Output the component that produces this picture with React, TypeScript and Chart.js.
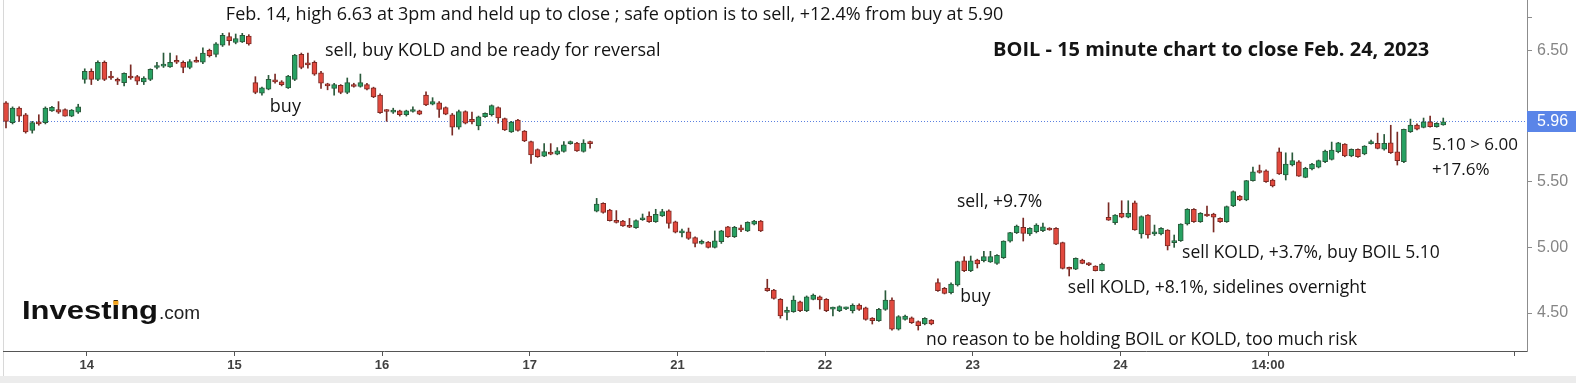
import React, { useEffect, useRef } from "react";
import { Chart, registerables } from "chart.js";

Chart.register(...registerables);

// Each candle: [open, high, low, close] — BOIL 15-minute bars
const feb13: number[][] = [
  [6.10, 6.11, 5.91, 5.96], [5.95, 6.07, 5.94, 6.06], [6.06, 6.07, 5.96, 6.00], [6.01, 6.02, 5.87, 5.88],
  [5.89, 5.96, 5.87, 5.95], [5.95, 6.01, 5.93, 5.94], [5.95, 6.07, 5.94, 6.06], [6.04, 6.075, 6.035, 6.067],
  [6.05, 6.11, 6.02, 6.03], [6.05, 6.055, 6.0, 6.0], [6.0, 6.05, 5.995, 6.045], [6.03, 6.09, 6.02, 6.07],
];
const feb14: number[][] = [
  [6.28, 6.36, 6.25, 6.34], [6.34, 6.36, 6.24, 6.28], [6.28, 6.42, 6.27, 6.41], [6.41, 6.42, 6.27, 6.28],
  [6.30, 6.34, 6.28, 6.29], [6.28, 6.29, 6.24, 6.265], [6.255, 6.33, 6.23, 6.325], [6.30, 6.39, 6.28, 6.29],
  [6.30, 6.31, 6.24, 6.265], [6.26, 6.30, 6.24, 6.29], [6.28, 6.36, 6.27, 6.355], [6.37, 6.41, 6.36, 6.385],
  [6.38, 6.48, 6.37, 6.39], [6.375, 6.48, 6.37, 6.41], [6.415, 6.46, 6.40, 6.41], [6.41, 6.42, 6.33, 6.37],
  [6.37, 6.43, 6.36, 6.415], [6.42, 6.45, 6.41, 6.41], [6.41, 6.52, 6.40, 6.48], [6.50, 6.51, 6.45, 6.46],
  [6.47, 6.56, 6.45, 6.55], [6.54, 6.63, 6.53, 6.615], [6.605, 6.633, 6.54, 6.575], [6.56, 6.625, 6.55, 6.59],
  [6.565, 6.63, 6.56, 6.615], [6.61, 6.62, 6.54, 6.55],
];
const feb15: number[][] = [
  [6.255, 6.30, 6.17, 6.18], [6.175, 6.22, 6.16, 6.215], [6.205, 6.31, 6.20, 6.28], [6.27, 6.32, 6.25, 6.26],
  [6.26, 6.27, 6.23, 6.24], [6.215, 6.31, 6.21, 6.305], [6.28, 6.47, 6.27, 6.465], [6.47, 6.48, 6.36, 6.37],
  [6.40, 6.48, 6.365, 6.39], [6.41, 6.42, 6.31, 6.32], [6.33, 6.34, 6.21, 6.25], [6.245, 6.25, 6.20, 6.23],
  [6.21, 6.25, 6.16, 6.24], [6.235, 6.24, 6.17, 6.18], [6.18, 6.29, 6.17, 6.255], [6.235, 6.25, 6.22, 6.225],
  [6.225, 6.32, 6.22, 6.255], [6.24, 6.25, 6.20, 6.205], [6.215, 6.22, 6.14, 6.145], [6.16, 6.17, 6.02, 6.025],
  [6.045, 6.05, 5.96, 6.035], [6.03, 6.06, 6.02, 6.04], [6.04, 6.045, 6.0, 6.01], [6.01, 6.045, 6.0, 6.04],
  [6.035, 6.07, 6.03, 6.042], [6.04, 6.045, 6.01, 6.015],
];
const feb16: number[][] = [
  [6.16, 6.185, 6.08, 6.085], [6.09, 6.14, 6.085, 6.11], [6.10, 6.11, 5.99, 6.05], [6.065, 6.07, 6.01, 6.015],
  [6.01, 6.02, 5.855, 5.915], [5.915, 6.045, 5.90, 6.035], [6.035, 6.04, 5.94, 5.945], [5.975, 6.03, 5.94, 5.955],
  [5.925, 6.0, 5.895, 5.995], [5.995, 6.025, 5.99, 6.02], [6.01, 6.085, 6.0, 6.08], [6.065, 6.07, 5.945, 5.985],
  [5.98, 5.985, 5.89, 5.895], [5.88, 5.96, 5.875, 5.955], [5.97, 5.975, 5.885, 5.89], [5.885, 5.89, 5.805, 5.81],
  [5.805, 5.81, 5.64, 5.705], [5.745, 5.75, 5.685, 5.69], [5.695, 5.79, 5.69, 5.73], [5.72, 5.79, 5.705, 5.71],
  [5.71, 5.76, 5.705, 5.735], [5.73, 5.805, 5.725, 5.78], [5.79, 5.81, 5.785, 5.805], [5.795, 5.80, 5.73, 5.735],
  [5.73, 5.82, 5.725, 5.795], [5.805, 5.81, 5.755, 5.79],
];
const feb17: number[][] = [
  [5.276, 5.373, 5.27, 5.33], [5.335, 5.34, 5.26, 5.267], [5.284, 5.29, 5.20, 5.203], [5.20, 5.28, 5.185, 5.19],
  [5.20, 5.205, 5.16, 5.163], [5.165, 5.22, 5.15, 5.153], [5.15, 5.21, 5.145, 5.203], [5.21, 5.254, 5.205, 5.222],
  [5.239, 5.27, 5.19, 5.195], [5.195, 5.29, 5.19, 5.252], [5.239, 5.29, 5.235, 5.272], [5.279, 5.285, 5.147, 5.183],
  [5.195, 5.20, 5.11, 5.115], [5.11, 5.14, 5.08, 5.12], [5.119, 5.147, 5.06, 5.069], [5.074, 5.08, 5.003, 5.03],
  [5.03, 5.056, 5.025, 5.04], [5.04, 5.045, 4.995, 5.0], [5.0, 5.125, 4.995, 5.05], [5.043, 5.13, 5.03, 5.125],
  [5.157, 5.16, 5.075, 5.081], [5.081, 5.16, 5.075, 5.153], [5.145, 5.17, 5.12, 5.133], [5.125, 5.195, 5.12, 5.19],
  [5.177, 5.205, 5.17, 5.20], [5.20, 5.205, 5.12, 5.125],
];
const feb21: number[][] = [
  [4.69, 4.757, 4.665, 4.67], [4.675, 4.68, 4.605, 4.612], [4.605, 4.61, 4.46, 4.477], [4.505, 4.545, 4.447, 4.515],
  [4.51, 4.63, 4.505, 4.599], [4.586, 4.59, 4.51, 4.518], [4.518, 4.63, 4.51, 4.624], [4.604, 4.645, 4.60, 4.637],
  [4.624, 4.63, 4.53, 4.599], [4.604, 4.61, 4.51, 4.518], [4.53, 4.545, 4.477, 4.538], [4.518, 4.555, 4.51, 4.548],
  [4.532, 4.545, 4.525, 4.538], [4.518, 4.57, 4.50, 4.559], [4.56, 4.57, 4.52, 4.528], [4.54, 4.545, 4.445, 4.452],
  [4.462, 4.465, 4.416, 4.441], [4.441, 4.535, 4.435, 4.528], [4.528, 4.67, 4.52, 4.599], [4.599, 4.615, 4.37, 4.376],
  [4.376, 4.48, 4.37, 4.472], [4.452, 4.485, 4.445, 4.477], [4.464, 4.47, 4.42, 4.426], [4.434, 4.44, 4.37, 4.403],
  [4.416, 4.465, 4.41, 4.46], [4.447, 4.45, 4.41, 4.416],
];
const feb22: number[][] = [
  [4.731, 4.76, 4.665, 4.67], [4.688, 4.695, 4.645, 4.65], [4.655, 4.73, 4.645, 4.721], [4.713, 4.895, 4.705, 4.891],
  [4.898, 4.929, 4.815, 4.822], [4.822, 4.934, 4.815, 4.898], [4.904, 4.91, 4.843, 4.873], [4.898, 4.97, 4.89, 4.929],
  [4.89, 4.97, 4.885, 4.929], [4.878, 4.945, 4.87, 4.94], [4.921, 5.05, 4.915, 5.048], [5.048, 5.115, 5.04, 5.112],
  [5.112, 5.17, 5.105, 5.163], [5.153, 5.223, 5.048, 5.107], [5.102, 5.15, 5.09, 5.145], [5.119, 5.18, 5.11, 5.17],
  [5.127, 5.185, 5.12, 5.157], [5.145, 5.15, 5.13, 5.132], [5.145, 5.15, 5.02, 5.025], [5.036, 5.04, 4.835, 4.84],
  [4.843, 4.85, 4.782, 4.833], [4.833, 4.92, 4.83, 4.917], [4.904, 4.91, 4.875, 4.878], [4.883, 4.885, 4.86, 4.866],
  [4.858, 4.86, 4.82, 4.822], [4.822, 4.88, 4.82, 4.873],
];
const feb23: number[][] = [
  [5.229, 5.34, 5.205, 5.208], [5.188, 5.25, 5.175, 5.246], [5.259, 5.355, 5.225, 5.229], [5.229, 5.355, 5.225, 5.259],
  [5.34, 5.353, 5.13, 5.132], [5.102, 5.24, 5.07, 5.234], [5.246, 5.25, 5.07, 5.094], [5.102, 5.17, 5.09, 5.119],
  [5.102, 5.15, 5.095, 5.145], [5.132, 5.135, 4.98, 5.01], [5.036, 5.094, 5.0, 5.051], [5.051, 5.18, 5.045, 5.178],
  [5.178, 5.295, 5.17, 5.29], [5.29, 5.295, 5.19, 5.195], [5.195, 5.265, 5.19, 5.259], [5.254, 5.315, 5.235, 5.239],
  [5.254, 5.26, 5.117, 5.229], [5.221, 5.225, 5.19, 5.195], [5.195, 5.315, 5.19, 5.31], [5.315, 5.43, 5.31, 5.424],
  [5.391, 5.395, 5.355, 5.361], [5.361, 5.51, 5.355, 5.508], [5.508, 5.612, 5.505, 5.576], [5.584, 5.627, 5.565, 5.57],
  [5.582, 5.59, 5.495, 5.50], [5.513, 5.52, 5.46, 5.467],
];
const feb24: number[][] = [
  [5.728, 5.757, 5.555, 5.559], [5.551, 5.72, 5.513, 5.635], [5.627, 5.72, 5.62, 5.66], [5.652, 5.66, 5.54, 5.543],
  [5.533, 5.61, 5.53, 5.602], [5.597, 5.64, 5.59, 5.635], [5.61, 5.665, 5.605, 5.66], [5.652, 5.74, 5.645, 5.734],
  [5.67, 5.802, 5.665, 5.741], [5.728, 5.80, 5.72, 5.797], [5.787, 5.79, 5.69, 5.696], [5.696, 5.75, 5.69, 5.747],
  [5.747, 5.75, 5.685, 5.69], [5.711, 5.775, 5.705, 5.772], [5.79, 5.818, 5.785, 5.80], [5.792, 5.87, 5.75, 5.754],
  [5.747, 5.86, 5.74, 5.792], [5.797, 5.93, 5.715, 5.721], [5.728, 5.878, 5.627, 5.66], [5.652, 5.90, 5.645, 5.899],
  [5.881, 5.977, 5.875, 5.932], [5.932, 5.94, 5.895, 5.901], [5.914, 5.985, 5.91, 5.957], [5.957, 6.0, 5.915, 5.919],
  [5.919, 5.95, 5.915, 5.945], [5.932, 5.985, 5.93, 5.957],
];

// Date labels along the time axis (placed at candle-index positions)
const dayTickLabels = ["14", "15", "16", "17", "21", "22", "23", "24", "14:00", ""];
const dayTickIndex = [12.3, 34.8, 57.3, 79.8, 102.3, 124.8, 147.3, 169.8, 192.3, 229.8];

// Price axis
const priceTicks = [4.5, 5.0, 5.5, 6.5, 6.75];
const priceTickLabels = ["4.50", "5.00", "5.50", "6.50", ""];
const lastPrice = 5.96;
const priceMin = 4.2106;
const priceMax = 6.884;
const indexMin = -0.457;
const indexMax = 231.76;

// Text notes anchored to (candle index, price)
const noteTexts = [
  "Feb. 14, high 6.63 at 3pm and held up to close ; safe option is to sell, +12.4% from buy at 5.90",
  "sell, buy KOLD and be ready for reversal",
  "buy",
  "BOIL - 15 minute chart to close Feb. 24, 2023",
  "sell, +9.7%",
  "buy",
  "sell KOLD, +8.1%, sidelines overnight",
  "sell KOLD, +3.7%, buy BOIL 5.10",
  "no reason to be holding BOIL or KOLD, too much risk",
  "5.10 > 6.00",
  "+17.6%",
];
const noteIndex = [33.5, 48.6, 40.2, 150.4, 144.9, 145.4, 161.8, 179.2, 140.2, 217.3, 217.3];
const notePrice = [6.77, 6.495, 6.069, 6.50, 5.348, 4.622, 4.69, 4.955, 4.297, 5.78, 5.589];
const noteSize = [18, 18, 18, 20, 17.5, 17.5, 17.5, 17.5, 17.5, 17, 17];
const noteBold = [false, false, false, true, false, false, false, false, false, false, false];

const candles = [feb13, feb14, feb15, feb16, feb17, feb21, feb22, feb23, feb24].flat();

const UP_FILL = "#27a162";
const UP_LINE = "#2a5a3b";
const DOWN_FILL = "#e2493e";
const DOWN_LINE = "#7a2a24";

const isUp = (i: number) => candles[i][3] >= candles[i][0];

const overlayPlugin = {
  id: "overlay",
  beforeDraw(chart: any) {
    const { ctx, width, height } = chart;
    ctx.save();
    ctx.fillStyle = "#ffffff";
    ctx.fillRect(0, 0, width, height);
    ctx.fillStyle = "#ececec";
    ctx.fillRect(0, height - 7, width, 7);
    ctx.fillStyle = "#d8d8d8";
    ctx.fillRect(3, 0, 1, height - 7);
    ctx.restore();
  },
  beforeDatasetsDraw(chart: any) {
    const { ctx, chartArea } = chart;
    const y = Math.round(chart.scales.y.getPixelForValue(lastPrice)) + 0.5;
    ctx.save();
    ctx.strokeStyle = "#5b80e0";
    ctx.lineWidth = 1;
    ctx.setLineDash([1, 2]);
    ctx.beginPath();
    ctx.moveTo(chartArea.left, y);
    ctx.lineTo(chartArea.right, y);
    ctx.stroke();
    ctx.restore();
  },
  afterDraw(chart: any) {
    const { ctx, chartArea, width } = chart;
    const xs = chart.scales.x;
    const ys = chart.scales.y;
    ctx.save();
    // last price tag
    const py = ys.getPixelForValue(lastPrice);
    ctx.fillStyle = "#5a85e8";
    ctx.fillRect(chartArea.right, Math.round(py) - 10, width - chartArea.right, 21);
    ctx.fillStyle = "#ffffff";
    ctx.font = "16px 'Liberation Sans', Arial, sans-serif";
    ctx.textBaseline = "middle";
    ctx.textAlign = "left";
    ctx.fillText(lastPrice.toFixed(2), chartArea.right + 10, Math.round(py) + 1);

    // notes
    ctx.fillStyle = "#141414";
    for (let k = 0; k < noteTexts.length; k++) {
      ctx.font = (noteBold[k] ? "bold " : "") + noteSize[k] + "px 'Open Sans', sans-serif";
      ctx.fillText(noteTexts[k], xs.getPixelForValue(noteIndex[k]), ys.getPixelForValue(notePrice[k]));
    }

    // logo
    ctx.textBaseline = "alphabetic";
    ctx.font = "bold 25px 'Liberation Sans', Arial, sans-serif";
    const w = ctx.measureText("Investing").width;
    const target = 136;
    const sx = target / w;
    const lx = 22;
    const ly = 319;
    ctx.save();
    ctx.translate(lx, ly);
    ctx.scale(sx, 1);
    ctx.fillStyle = "#111111";
    ctx.fillText("Investing", 0, 0);
    const wPre = ctx.measureText("Invest").width;
    const wI = ctx.measureText("i").width;
    ctx.fillStyle = "#f2a21a";
    ctx.fillRect(wPre + wI * 0.2, -18.2, wI * 0.6, 4);
    ctx.restore();
    ctx.font = "19px 'Liberation Sans', Arial, sans-serif";
    ctx.fillStyle = "#222222";
    ctx.fillText(".com", lx + target + 1, ly);
    ctx.restore();
  },
};

export default function App() {
  const ref = useRef<HTMLCanvasElement>(null);
  useEffect(() => {
    const canvas = ref.current!;
    const wickData = candles.map((c, i) => ({ x: i, y: [c[2], c[1]] }));
    const bodyData = candles.map((c, i) => ({
      x: i,
      y: [Math.min(c[0], c[3]), Math.max(c[0], c[3])],
    }));
    const chart = new Chart(canvas, {
      type: "bar",
      data: {
        datasets: [
          {
            label: "body",
            data: bodyData as any,
            barThickness: 5,
            minBarLength: 2,
            grouped: false,
            order: 1,
            borderWidth: 1,
            borderSkipped: false,
            backgroundColor: (c: any) => (isUp(c.dataIndex) ? UP_FILL : DOWN_FILL),
            borderColor: (c: any) => (isUp(c.dataIndex) ? UP_LINE : DOWN_LINE),
          } as any,
          {
            label: "wick",
            data: wickData as any,
            barThickness: 1,
            grouped: false,
            order: 2,
            borderWidth: 0,
            backgroundColor: (c: any) => (isUp(c.dataIndex) ? UP_LINE : DOWN_LINE),
          } as any,
        ],
      },
      options: {
        animation: false,
        responsive: false,
        devicePixelRatio: 1,
        layout: { padding: { left: 3, top: 0, right: 0, bottom: 0 } },
        plugins: { legend: { display: false }, tooltip: { enabled: false } },
        scales: {
          x: {
            type: "linear",
            min: indexMin,
            max: indexMax,
            offset: false,
            grid: { drawOnChartArea: false, drawTicks: true, tickLength: 5, color: "#555555", offset: false },
            border: { display: true, color: "#555555", width: 1 },
            ticks: {
              autoSkip: false,
              maxRotation: 0,
              padding: 2,
              color: "#404040",
              font: { family: "'Liberation Sans', Arial, sans-serif", size: 13, weight: "bold" },
              callback: (_v: any, i: number) => dayTickLabels[i],
            },
            afterBuildTicks: (axis: any) => {
              axis.ticks = dayTickIndex.map((v) => ({ value: v }));
            },
            afterFit: (axis: any) => {
              axis.height = 32;
              axis.paddingLeft = 0;
              axis.paddingRight = 0;
            },
          } as any,
          y: {
            type: "linear",
            position: "right",
            min: priceMin,
            max: priceMax,
            grid: { drawOnChartArea: false, drawTicks: true, tickLength: 5, color: "#8c8c8c" },
            border: { display: true, color: "#8c8c8c", width: 1 },
            ticks: {
              autoSkip: false,
              padding: 5,
              color: "#858585",
              font: { family: "'Liberation Sans', Arial, sans-serif", size: 16 },
              callback: (_v: any, i: number) => priceTickLabels[i],
            },
            afterBuildTicks: (axis: any) => {
              axis.ticks = priceTicks.map((v) => ({ value: v }));
            },
            afterFit: (axis: any) => {
              axis.width = 49;
              axis.paddingTop = 0;
              axis.paddingBottom = 0;
            },
          } as any,
        },
      },
      plugins: [overlayPlugin],
    });
    return () => chart.destroy();
  }, []);
  return (
    <div style={{ position: "absolute", left: 0, top: 0, width: 1576, height: 383, background: "#fff" }}>
      <canvas ref={ref} width={1576} height={383} style={{ display: "block", width: 1576, height: 383 }} />
    </div>
  );
}
